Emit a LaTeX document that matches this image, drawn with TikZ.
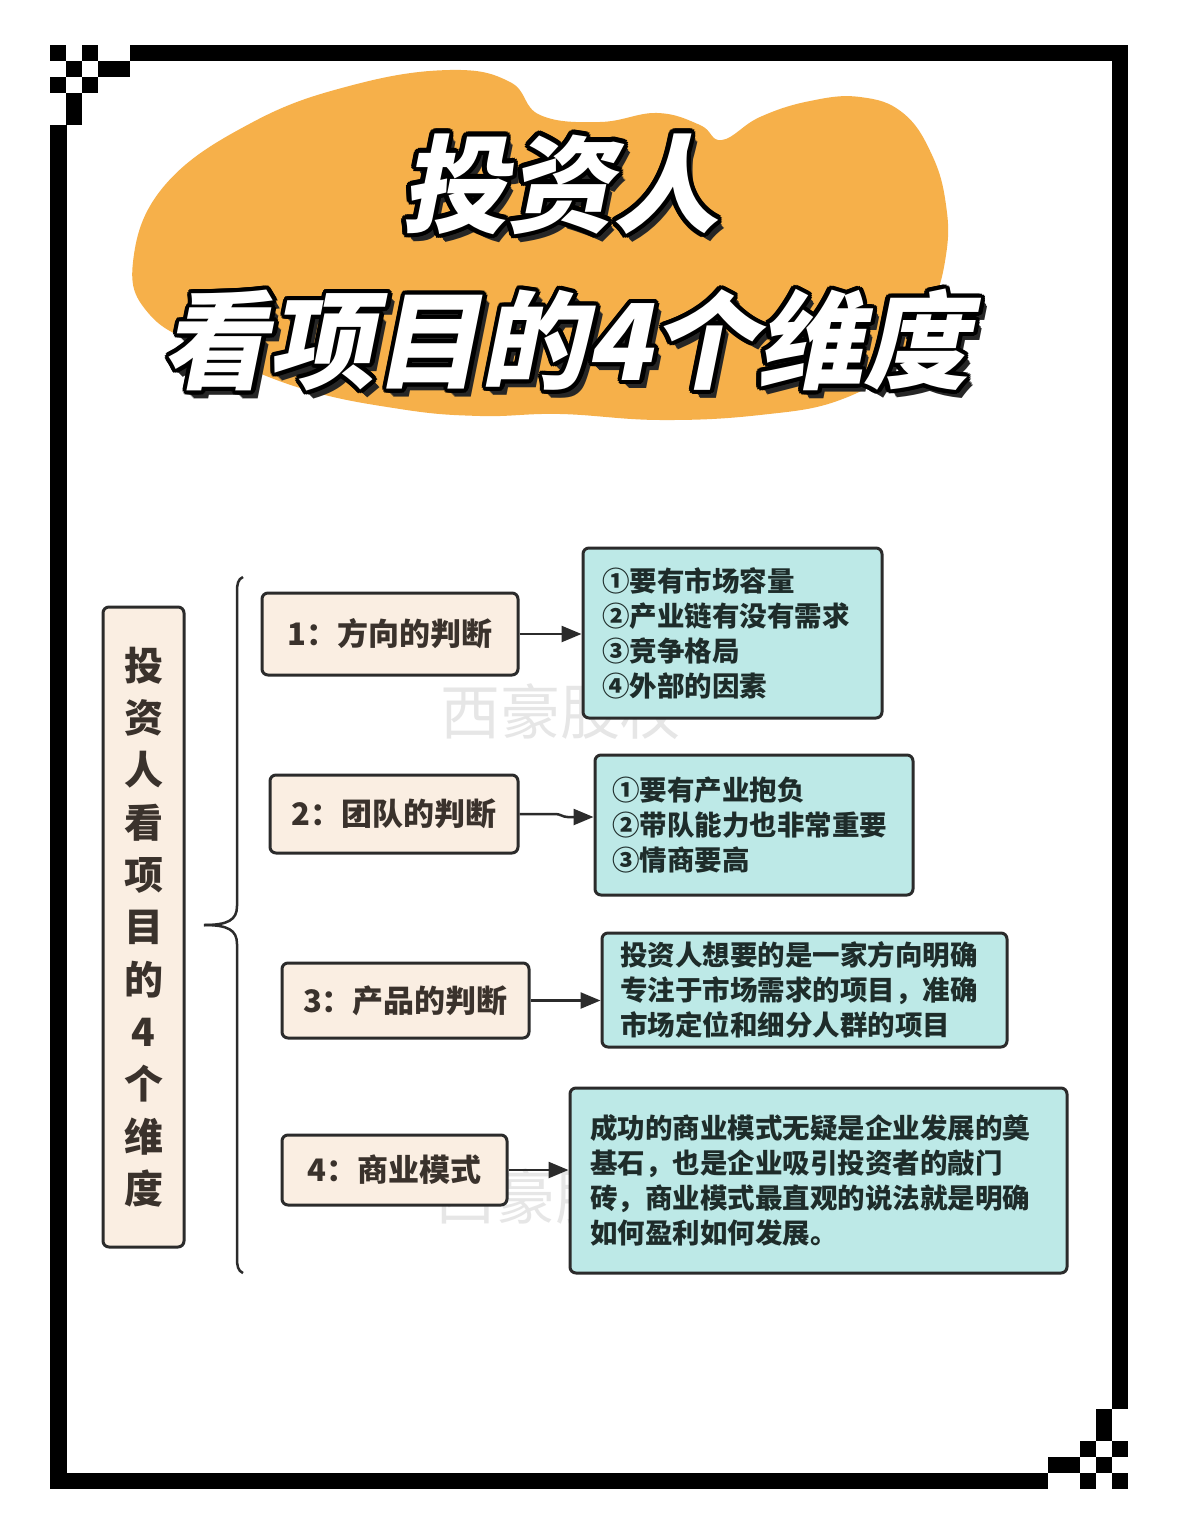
\documentclass[tikz,border=0pt]{standalone}
\usepackage{fontspec}
\setmainfont{Noto Sans CJK SC}
\newfontfamily\titlefont{Noto Sans CJK SC}[FakeSlant=0.2]
\usetikzlibrary{arrows.meta,calc}
\definecolor{blob}{RGB}{246,176,74}
\definecolor{beige}{RGB}{250,238,226}
\definecolor{aqua}{RGB}{189,233,231}
\definecolor{edge}{RGB}{43,43,43}
\definecolor{btxt}{RGB}{58,50,44}
\definecolor{atxt}{RGB}{30,44,42}
\definecolor{wm}{RGB}{230,230,230}
\tikzset{
 catbox/.style={draw=edge, line width=3pt, fill=beige, rounded corners=6pt, inner sep=0pt, font=\bfseries\fontsize{31}{36}\selectfont, text=btxt},
 infobox/.style={draw=edge, line width=3pt, fill=aqua, rounded corners=6pt, inner ysep=0pt, align=left, font=\bfseries\fontsize{27.5}{35}\selectfont, text=atxt},
 conn/.style={draw=edge, line width=2.5pt, -{Triangle[length=20pt,width=16pt]}},
 bracestyle/.style={draw=edge, line width=2.5pt},
 ttl/.style={font=\titlefont\bfseries\fontsize{106}{116}\selectfont, inner sep=0pt},
 wmark/.style={font=\fontsize{60}{60}\selectfont, text=wm, inner sep=0pt},
}
\newcommand\outlinedtitle[3]{%
  \foreach \d in {1,...,8} {\node[ttl,text=black!85] (#1s\d) at ($(#2)+(0.8*\d,\d)$) {#3};}
  \foreach \a in {0,24,...,336} {\node[ttl,text=black] (#1o\a) at ($(#2)+(\a:4.5)$) {#3};}
  \node[ttl,text=white] (#1) at (#2) {#3};
}
\begin{document}
\begin{tikzpicture}[x=1pt,y=-1pt]
\useasboundingbox (0,0) rectangle (1178,1536);
\fill[white] (0,0) rectangle (1178,1536);

% frame: checker corners and bars
\foreach \c/\r in {0/0,2/0,1/1,3/1,4/1,0/2,2/2,1/3,1/4}{
  \fill[black] (50+16*\c,45+16*\r) rectangle ++(16,16);
  \fill[black] (1128-16*\c,1489-16*\r) rectangle ++(-16,-16);
}
\fill[black] (130,45) rectangle (1128,61.5);
\fill[black] (50,125) rectangle (66.5,1489);
\fill[black] (1111.5,45) rectangle (1128,1409);
\fill[black] (50,1472.5) rectangle (1048,1489);

% orange blob
\fill[blob] plot[smooth cycle, tension=0.7] coordinates {
 (133,262) (165,185) (253,122) (353,85) (450,70) (510,82) (540,115) (600,122)
 (657,113) (700,125) (722,140) (760,117) (810,101) (860,97) (903,113) (932,155)
 (946,205) (946,255) (930,310) (895,365) (840,400) (760,415) (660,420) (560,414)
 (480,416) (400,409) (300,388) (210,350) (150,315)};

% title
\coordinate (tA) at (560,184);
\coordinate (tB) at (566,340);
\outlinedtitle{tlineA}{tA}{投资人}
\outlinedtitle{tlineB}{tB}{看项目的4个维度}

% watermarks
\node[wmark] (wm1) at (560,712) {西豪股权};
\node[wmark] (wm2) at (555,1197) {西豪股权};

% vertical title box
\node[draw=edge, line width=3pt, fill=beige, rounded corners=6pt, minimum width=81pt, minimum height=640pt, inner sep=0pt, align=center, text=btxt, font=\bfseries\fontsize{39}{52.3}\selectfont] (v) at (143.5,927)
 {投\\资\\人\\看\\项\\目\\的\\4\\个\\维\\度};

% brace
\draw[bracestyle] (243,577) .. controls (238,579) and (237,584) .. (237,592) -- (237,906) .. controls (237,920) and (228,925) .. (204,925);
\draw[bracestyle] (204,925) .. controls (228,925) and (237,930) .. (237,944) -- (237,1258) .. controls (237,1266) and (238,1271) .. (243,1273);

% category boxes
\node[catbox, minimum width=256pt, minimum height=82pt] (c1) at (390,634) {1：方向的判断};
\node[catbox, minimum width=248pt, minimum height=78pt] (c2) at (394,814) {2：团队的判断};
\node[catbox, minimum width=247pt, minimum height=75pt] (c3) at (405.5,1000.5) {3：产品的判断};
\node[catbox, minimum width=225pt, minimum height=70pt] (c4) at (394.5,1170) {4：商业模式};

% info boxes
\node[infobox, inner xsep=19pt, text width=261pt, minimum height=170pt] (b1) at (732.5,633)
 {①要有市场容量\\②产业链有没有需求\\③竞争格局\\④外部的因素};
\node[infobox, inner xsep=17pt, text width=284pt, minimum height=140pt] (b2) at (754,825)
 {①要有产业抱负\\②带队能力也非常重要\\③情商要高};
\node[infobox, inner xsep=18pt, text width=369pt, minimum height=114pt] (b3) at (804.5,990)
 {投资人想要的是一家方向明确\\专注于市场需求的项目，准确\\市场定位和细分人群的项目};
\node[infobox, inner xsep=20pt, text width=457pt, minimum height=185pt] (b4) at (818.5,1180.5)
 {成功的商业模式无疑是企业发展的奠\\基石，也是企业吸引投资者的敲门\\砖，商业模式最直观的说法就是明确\\如何盈利如何发展。};

% connectors
\draw[conn] (c1.east) -- (c1.east -| b1.west);
\coordinate (j2) at ($(c2.east)+(48,3)$);
\draw[conn] (c2.east) -- ++(36,0) to[out=0,in=180] (j2) -- (j2 -| b2.west);
\draw[conn] (c3.east) -- (c3.east -| b3.west);
\draw[conn] (c4.east) -- (c4.east -| b4.west);
\end{tikzpicture}
\end{document}
